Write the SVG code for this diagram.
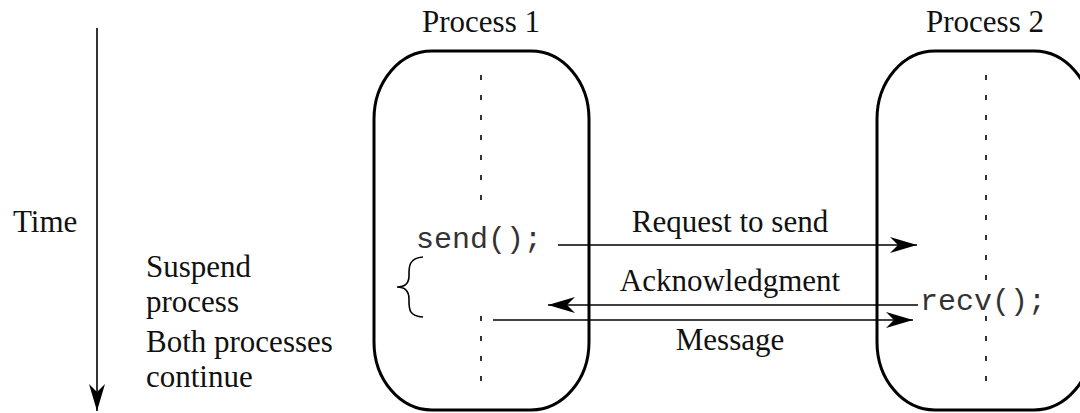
<svg xmlns="http://www.w3.org/2000/svg" width="1080" height="413" viewBox="0 0 1080 413">
<defs>
<style>
.t{font-family:"Liberation Serif","Times New Roman",serif;font-size:31px;fill:#111}
.m{font-family:"Liberation Mono","Courier New",monospace;font-size:30px;fill:#333}
.box{fill:none;stroke:#000;stroke-width:3}
.dash{stroke:#000;stroke-width:1.6;stroke-dasharray:5 15}
.ln{stroke:#000;stroke-width:1.6;fill:none}
</style>
<marker id="ah" viewBox="0 0 27 16" refX="27" refY="8" markerWidth="27" markerHeight="16" markerUnits="userSpaceOnUse" orient="auto">
<path d="M0,0 L27,8 L0,16 L8,8 Z" fill="#000"/>
</marker>
</defs>
<rect width="1080" height="413" fill="#fff"/>

<g id="time">
<line class="ln" x1="97" y1="28" x2="97" y2="411" marker-end="url(#ah)"/>
<text class="t" x="13" y="232">Time</text>
</g>

<g id="labels">
<text class="t" x="146" y="277">Suspend</text>
<text class="t" x="146" y="312">process</text>
<text class="t" x="146" y="352">Both processes</text>
<text class="t" x="146" y="387">continue</text>
<path class="ln" d="M423,257 C408,258 409,268 409,276 C409,284 405,287 397,287 C405,287 409,291 409,299 C409,308 408,316 423,317" stroke-width="1.3"/>
</g>

<g id="process1">
<text class="t" x="481" y="32" text-anchor="middle">Process 1</text>
<rect class="box" x="374" y="51" width="215" height="359" rx="58" ry="68"/>
<line class="dash" x1="481" y1="75" x2="481" y2="210"/>
<line class="dash" x1="481" y1="316" x2="481" y2="392" stroke-dasharray="3 20 5 20"/>
<text class="m" x="416" y="248">send();</text>
</g>

<g id="process2">
<text class="t" x="985" y="32" text-anchor="middle">Process 2</text>
<rect class="box" x="877" y="51" width="215" height="359" rx="58" ry="68"/>
<line class="dash" x1="986" y1="75" x2="986" y2="285"/>
<line class="dash" x1="986" y1="316" x2="986" y2="392" stroke-dasharray="3 18 5 18"/>
<text class="m" x="920" y="310">recv();</text>
</g>

<g id="connectors">
<line class="ln" x1="558" y1="245" x2="917" y2="245" marker-end="url(#ah)"/>
<line class="ln" x1="918" y1="305" x2="548" y2="305" marker-end="url(#ah)"/>
<line class="ln" x1="493" y1="320" x2="913" y2="320" marker-end="url(#ah)"/>
<text class="t" x="730" y="232" text-anchor="middle">Request to send</text>
<text class="t" x="730" y="291" text-anchor="middle">Acknowledgment</text>
<text class="t" x="730" y="350" text-anchor="middle">Message</text>
</g>
</svg>
